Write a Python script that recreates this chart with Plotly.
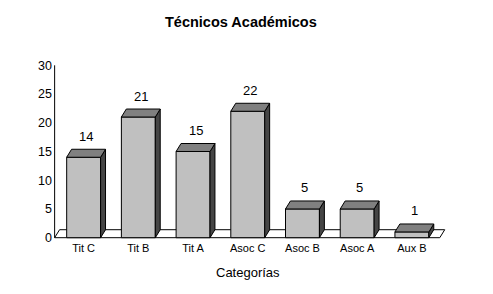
import plotly.graph_objects as go

categories = ["Tit C", "Tit B", "Tit A", "Asoc C", "Asoc B", "Asoc A", "Aux B"]
values = [14, 21, 15, 22, 5, 5, 1]
y_ticks = [0, 5, 10, 15, 20, 25, 30]

title_text = "Técnicos Académicos"
x_title = "Categorías"

W = 0.62      # bar width (category units)
DX = 0.09     # 3D depth offset, x (category units)
DY = 1.39     # 3D depth offset, y (value units)
X0, X1 = -0.53, 6.51  # floor extent

xs = list(range(len(categories)))

# top and side faces
tx, ty, sx, sy = [], [], [], []
for i, v in zip(xs, values):
    l, r = i - W / 2, i + W / 2
    tx += [l, l + DX, r + DX, r, l, None]
    ty += [v, v + DY, v + DY, v, v, None]
    sx += [r, r + DX, r + DX, r, r, None]
    sy += [0, DY, v + DY, v, 0, None]

fig = go.Figure()
fig.add_trace(go.Bar(x=xs, y=values, width=W, marker=dict(color="#c0c0c0", line=dict(color="black", width=1)),
                     hoverinfo="skip"))
fig.add_trace(go.Scatter(x=sx, y=sy, mode="lines", fill="toself", fillcolor="#454545",
                         line=dict(color="black", width=1), hoverinfo="skip"))
fig.add_trace(go.Scatter(x=tx, y=ty, mode="lines", fill="toself", fillcolor="#808080",
                         line=dict(color="black", width=1), hoverinfo="skip"))
# y axis line
fig.add_trace(go.Scatter(x=[X0, X0], y=[0, y_ticks[-1]], mode="lines", line=dict(color="black", width=1),
                         hoverinfo="skip"))

shapes = [dict(type="path", xref="x", yref="y", layer="below",
               path=f"M {X0},0 L {X0 + DX},{DY} L {X1 + DX},{DY} L {X1},0 Z",
               fillcolor="white", line=dict(color="black", width=1))]

# plot area: left 53, right 448, top 63, bottom 240 (pixels)
PL, PR, PT, PB = 53, 448, 63, 240


def px(x):
    return (x - PL) / (PR - PL)


def py(y):
    return (PB - y) / (PB - PT)


annotations = []
for i, v in zip(xs, values):
    annotations.append(dict(x=i + DX / 2, y=v, xref="x", yref="y", text=str(v), showarrow=False,
                            yshift=21, font=dict(family="Liberation Sans, Arial", size=13, color="black")))
annotations.append(dict(x=px(241), y=py(22), xref="paper", yref="paper", xanchor="center", yanchor="middle",
                        text=f"<b>{title_text}</b>", showarrow=False,
                        font=dict(family="Liberation Sans, Arial", size=14.5, color="black")))
annotations.append(dict(x=px(248), y=py(272), xref="paper", yref="paper", xanchor="center", yanchor="middle",
                        text=x_title, showarrow=False,
                        font=dict(family="Liberation Sans, Arial", size=13, color="black")))

fig.update_layout(
    width=493, height=294,
    margin=dict(l=PL, r=493 - PR, t=PT, b=294 - PB),
    paper_bgcolor="white", plot_bgcolor="white",
    showlegend=False,
    shapes=shapes, annotations=annotations,
    xaxis=dict(range=[-0.56, 6.66], tickmode="array", tickvals=xs, ticktext=categories,
               showgrid=False, zeroline=False, showline=False, ticks="",
               tickfont=dict(family="Liberation Sans, Arial", size=11, color="black"), fixedrange=True),
    yaxis=dict(range=[-0.4, 30.4], tickmode="array", tickvals=y_ticks, ticktext=[str(t) for t in y_ticks],
               showgrid=False, zeroline=False, showline=False, ticks="",
               tickfont=dict(family="Liberation Sans, Arial", size=12.5, color="black"), fixedrange=True),
)

fig.write_html("out.html", config={"displayModeBar": False})
